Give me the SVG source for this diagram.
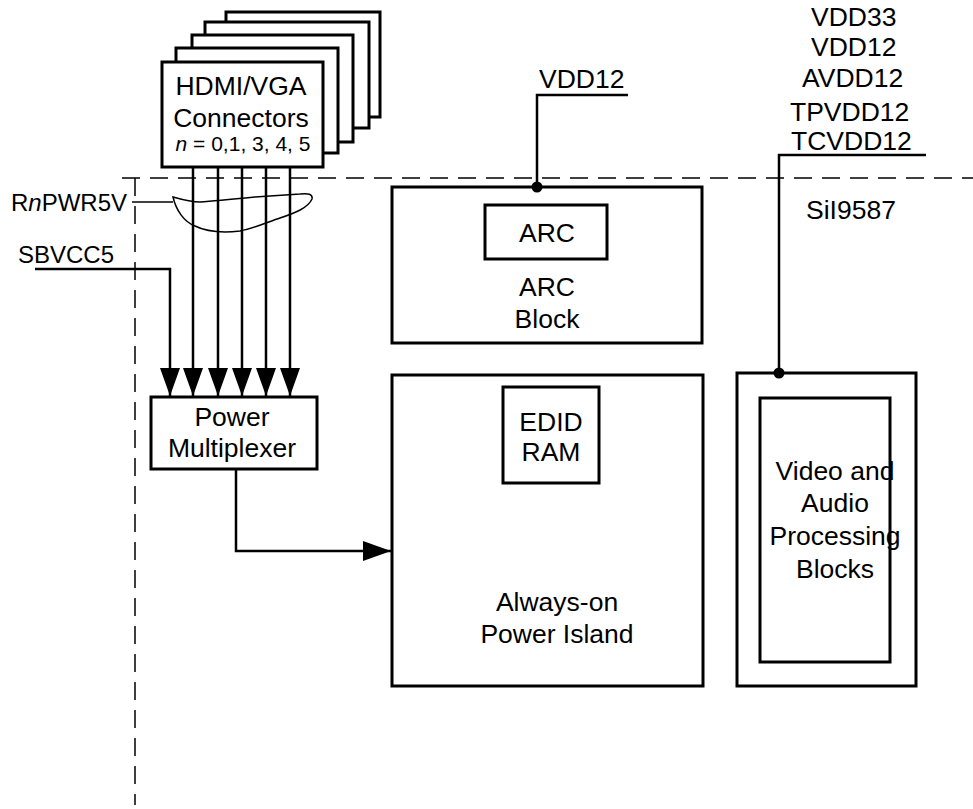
<svg xmlns="http://www.w3.org/2000/svg" width="973" height="809" viewBox="0 0 973 809">
<style>
.box{fill:#fff;stroke:#000;stroke-width:3}
.ln{fill:none;stroke:#000;stroke-width:2.5}
.thin{fill:none;stroke:#000;stroke-width:1.5}
.dash{fill:none;stroke:#000;stroke-width:1.5;stroke-dasharray:18 10}
text{font-family:"Liberation Sans",Arial,sans-serif;font-size:26.5px;fill:#000}
.c{text-anchor:middle}
.s{font-size:21px}
.l{font-size:24px}
</style>
<defs>
<marker id="arr" markerUnits="userSpaceOnUse" markerWidth="29" markerHeight="21" refX="28" refY="10" orient="auto">
<path d="M0,0 L28,10 L0,20 Z" fill="#000"/>
</marker>
</defs>
<rect width="973" height="809" fill="#fff"/>
<g id="boundary">
<path class="dash" d="M122,178 H973"/>
<path class="dash" d="M135,178 V805"/>
<text x="806" y="219">SiI9587</text>
</g>
<g id="connectors-stack">
<rect class="box" x="226" y="12" width="154" height="105"/>
<rect class="box" x="205" y="22" width="164" height="106"/>
<rect class="box" x="192" y="35" width="161" height="107"/>
<rect class="box" x="176" y="48" width="162" height="105"/>
<rect class="box" x="162" y="62" width="161" height="105"/>
<text class="c" x="241" y="95">HDMI/VGA</text>
<text class="c" x="241" y="127">Connectors</text>
<text class="c s" x="243" y="151"><tspan font-style="italic">n</tspan> = 0,1, 3, 4, 5</text>
</g>
<g id="mux">
<rect class="box" x="151" y="397" width="166" height="72"/>
<text class="c" x="232" y="426">Power</text>
<text class="c" x="232" y="457">Multiplexer</text>
</g>
<g id="arc-block">
<rect class="box" x="392" y="187" width="310" height="156"/>
<rect class="box" x="485" y="205" width="122" height="54"/>
<text class="c" x="547" y="242">ARC</text>
<text class="c" x="547" y="296">ARC</text>
<text class="c" x="547" y="328">Block</text>
</g>
<g id="always-on">
<rect class="box" x="392" y="375" width="311" height="311"/>
<rect class="box" x="503" y="387" width="96" height="96"/>
<text class="c" x="551" y="431">EDID</text>
<text class="c" x="551" y="461">RAM</text>
<text class="c" x="557" y="611">Always-on</text>
<text class="c" x="557" y="643">Power Island</text>
</g>
<g id="video">
<rect class="box" x="737" y="373" width="179" height="313"/>
<rect class="box" x="760" y="398" width="130" height="264"/>
<text class="c" x="835" y="480">Video and</text>
<text class="c" x="835" y="512">Audio</text>
<text class="c" x="835" y="545">Processing</text>
<text class="c" x="835" y="578">Blocks</text>
</g>
<g id="labels">
<text class="l" x="11" y="211">R<tspan font-style="italic">n</tspan>PWR5V</text>
<text class="l" x="18" y="263">SBVCC5</text>
<text x="539" y="88">VDD12</text>
<text x="811" y="26">VDD33</text>
<text x="811" y="56">VDD12</text>
<text x="802" y="87">AVDD12</text>
<text x="790" y="121">TPVDD12</text>
<text x="791" y="150">TCVDD12</text>
</g>
<g id="connectors">
<path class="ln" d="M193,167 V396" marker-end="url(#arr)"/>
<path class="ln" d="M218,167 V396" marker-end="url(#arr)"/>
<path class="ln" d="M242,167 V396" marker-end="url(#arr)"/>
<path class="ln" d="M266,167 V396" marker-end="url(#arr)"/>
<path class="ln" d="M290,167 V396" marker-end="url(#arr)"/>
<path class="ln" d="M35,269 H170 V396" marker-end="url(#arr)"/>
<path class="ln" d="M236,469 V551 H391" marker-end="url(#arr)"/>
<path class="ln" d="M628,95 H537 V187"/>
<circle cx="537" cy="187" r="5.5"/>
<path class="ln" d="M926,155 H779 V373"/>
<circle cx="779" cy="373" r="5.5"/>
<path class="thin" d="M132,202 H173"/>
<path class="thin" d="M173,197 C176,210 184,222 195,226 C205,231 222,233 240,231 C255,228 268,222 280,218 C295,213 308,208 312,199 C313,194 308,193 300,194 C285,195 270,196 255,197 C235,199 215,201 200,202 C190,202 180,199 173,197 Z"/>
</g>
</svg>
